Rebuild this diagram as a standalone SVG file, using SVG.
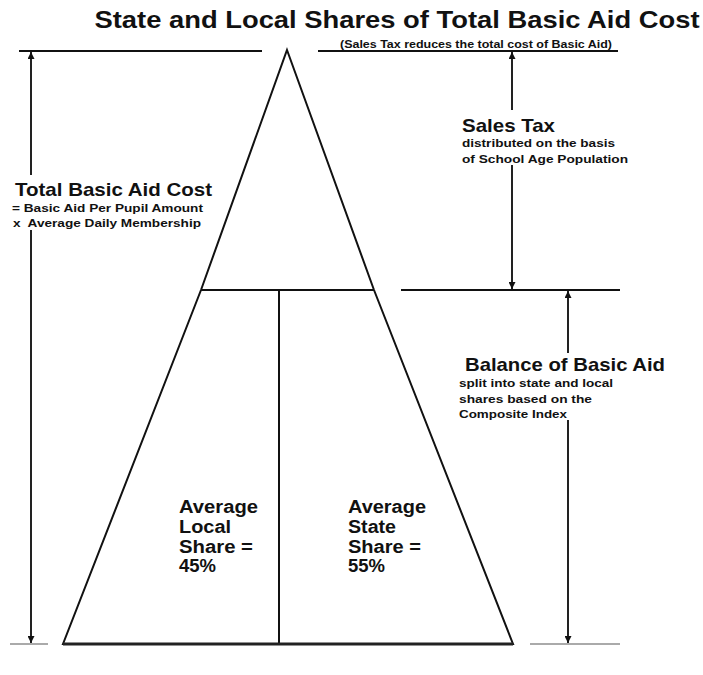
<svg xmlns="http://www.w3.org/2000/svg" width="703" height="675" viewBox="0 0 703 675">
<style>
text{font-family:"Liberation Sans",Arial,sans-serif;font-weight:bold;fill:#111}
.ln{stroke:#111;stroke-width:2;fill:none}
.ar{stroke:#222;stroke-width:2;fill:none}
.gr{stroke:#aaa;stroke-width:2}
.big{font-size:19px}
.sm{font-size:11px}
.mid{font-size:18px}
</style>
<defs>
<marker id="ah" viewBox="0 0 10 10" refX="10" refY="5" markerWidth="7" markerHeight="7" markerUnits="userSpaceOnUse" orient="auto">
<path d="M0,0 L10,5 L0,10 z" fill="#111"/>
</marker>
</defs>
<rect width="703" height="675" fill="#fff"/>
<text id="title" x="397" y="28" text-anchor="middle" font-size="24" textLength="605" lengthAdjust="spacingAndGlyphs">State and Local Shares of Total Basic Aid Cost</text>
<text id="subtitle" x="340" y="48" font-size="10.5" textLength="272" lengthAdjust="spacingAndGlyphs">(Sales Tax reduces the total cost of Basic Aid)</text>
<g id="guides">
<line class="ln" x1="19" y1="51" x2="262" y2="51"/>
<line class="ln" x1="318" y1="51" x2="618" y2="51"/>
<line class="ln" x1="401" y1="290" x2="620" y2="290"/>
<line class="gr" x1="10" y1="644" x2="48" y2="644"/>
<line class="gr" x1="530" y1="644" x2="620" y2="644"/>
</g>
<g id="pyramid">
<polygon class="ln" points="287,50 374,290 513,644 63,644 201,290"/>
<line class="ln" x1="201" y1="290" x2="374" y2="290"/>
<line class="ln" x1="279" y1="290" x2="279" y2="644"/>
<line x1="63" y1="644" x2="513" y2="644" stroke="#222" stroke-width="3"/>
</g>
<g id="connectors">
<line class="ar" x1="31" y1="175" x2="31" y2="52" marker-end="url(#ah)"/>
<line class="ar" x1="31" y1="230" x2="31" y2="643" marker-end="url(#ah)"/>
<line class="ar" x1="512" y1="110" x2="512" y2="52" marker-end="url(#ah)"/>
<line class="ar" x1="512" y1="165" x2="512" y2="289" marker-end="url(#ah)"/>
<line class="ar" x1="568" y1="353" x2="568" y2="291" marker-end="url(#ah)"/>
<line class="ar" x1="568" y1="420" x2="568" y2="643" marker-end="url(#ah)"/>
</g>
<g id="total-cost">
<text class="big" x="15" y="196" textLength="197" lengthAdjust="spacingAndGlyphs">Total Basic Aid Cost</text>
<text class="sm" x="12" y="212" textLength="191" lengthAdjust="spacingAndGlyphs">= Basic Aid Per Pupil Amount</text>
<text class="sm" x="13" y="227" textLength="188" lengthAdjust="spacingAndGlyphs" xml:space="preserve">x  Average Daily Membership</text>
</g>
<g id="sales-tax">
<text class="big" x="462" y="132" textLength="93" lengthAdjust="spacingAndGlyphs">Sales Tax</text>
<text class="sm" x="462" y="147" textLength="153" lengthAdjust="spacingAndGlyphs">distributed on the basis</text>
<text class="sm" x="462" y="163" textLength="166" lengthAdjust="spacingAndGlyphs">of School Age Population</text>
</g>
<g id="balance">
<text class="big" x="465" y="371" textLength="200" lengthAdjust="spacingAndGlyphs">Balance of Basic Aid</text>
<text class="sm" x="459" y="387" textLength="154" lengthAdjust="spacingAndGlyphs">split into state and local</text>
<text class="sm" x="459" y="403" textLength="133" lengthAdjust="spacingAndGlyphs">shares based on the</text>
<text class="sm" x="459" y="418" textLength="108" lengthAdjust="spacingAndGlyphs">Composite Index</text>
</g>
<g id="local-share">
<text class="mid" x="179" y="513" textLength="79" lengthAdjust="spacingAndGlyphs">Average</text>
<text class="mid" x="179" y="533" textLength="52" lengthAdjust="spacingAndGlyphs">Local</text>
<text class="mid" x="179" y="553" textLength="74" lengthAdjust="spacingAndGlyphs">Share =</text>
<text class="mid" x="179" y="572" textLength="37" lengthAdjust="spacingAndGlyphs">45%</text>
</g>
<g id="state-share">
<text class="mid" x="348" y="513" textLength="78" lengthAdjust="spacingAndGlyphs">Average</text>
<text class="mid" x="348" y="533" textLength="48" lengthAdjust="spacingAndGlyphs">State</text>
<text class="mid" x="348" y="553" textLength="73" lengthAdjust="spacingAndGlyphs">Share =</text>
<text class="mid" x="348" y="572" textLength="37" lengthAdjust="spacingAndGlyphs">55%</text>
</g>
</svg>
